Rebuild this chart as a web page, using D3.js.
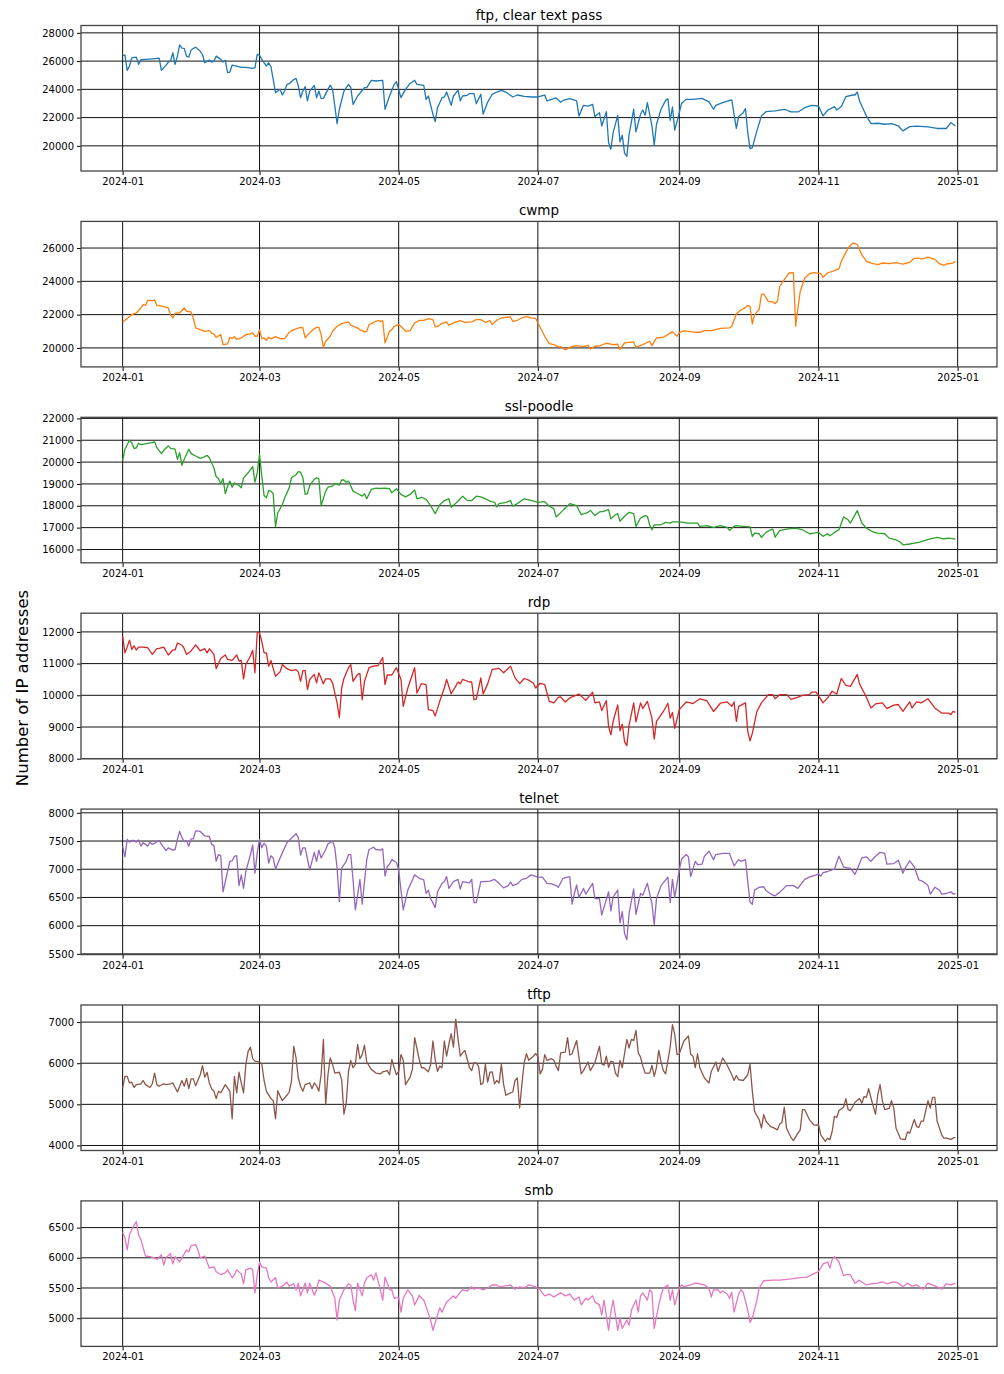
<!DOCTYPE html>
<html>
<head>
<meta charset="utf-8">
<script src="https://d3js.org/d3.v7.min.js"></script>
<style>
body { margin: 0; background: #fff; }
svg { display: block; font-family: "DejaVu Sans", sans-serif; }
</style>
</head>
<body>
<svg width="1004" height="1374"></svg>
<script>
// panel titles and line colours (matplotlib tab10 order)
var titles = ["ftp, clear text pass", "cwmp", "ssl-poodle", "rdp", "telnet", "tftp", "smb"];
var colors = ["#1f77b4", "#ff7f0e", "#2ca02c", "#d62728", "#9467bd", "#8c564b", "#e377c2"];

// [day of 2024 (0 = Jan 1), number of IP addresses]
var ftp = [[0,26400],[1,26420],[2,25340],[3,25650],[4,26230],[6,26280],[7,25770],[8,26100],[10,26120],[13,26160],[16,26210],[17,25340],[19,25700],[20,25930],[21,26000],[22,26590],[23,25770],[24,26350],[25,27150],[26,26920],[27,26900],[28,26350],[29,26280],[30,26780],[32,26990],[34,26700],[35,26450],[36,25880],[38,26070],[39,25930],[40,26000],[41,26350],[43,26120],[44,25930],[45,26050],[46,25180],[47,25220],[48,25720],[50,25650],[52,25550],[54,25550],[57,25480],[58,25530],[59,26470],[60,26400],[61,26120],[63,25650],[64,25880],[65,25600],[66,24700],[67,23760],[68,23880],[69,24000],[70,23600],[71,23880],[72,24350],[73,24400],[75,24700],[76,24780],[77,24240],[78,23410],[79,23880],[80,24190],[81,23180],[82,23880],[84,24280],[85,23410],[86,23880],[87,23340],[88,23360],[90,24000],[91,24300],[92,24000],[93,22820],[94,21570],[95,22590],[97,23880],[99,24350],[100,24120],[101,22940],[103,23530],[106,24120],[107,24120],[109,24640],[111,24590],[114,24640],[115,22590],[117,23530],[119,24350],[120,24540],[122,23410],[124,24000],[126,24420],[128,24640],[129,24350],[132,24280],[133,23290],[134,23530],[136,22240],[137,21720],[138,22700],[140,23410],[141,23460],[142,23810],[144,22870],[145,23530],[147,23950],[148,23180],[149,23530],[151,23580],[152,23700],[154,23700],[155,22990],[157,23650],[158,22240],[160,23100],[162,23650],[164,23810],[166,23930],[168,23810],[171,23460],[173,23600],[176,23510],[179,23460],[182,23460],[185,23600],[186,23180],[188,23290],[190,23390],[192,23080],[193,23220],[196,23340],[199,23180],[200,22120],[202,22870],[204,22820],[206,22940],[207,22070],[209,22350],[210,21410],[212,22420],[213,20240],[214,19760],[215,20940],[217,22160],[218,20280],[219,20750],[220,19480],[221,19250],[222,20820],[224,22590],[225,20990],[227,22240],[228,22540],[229,22160],[230,23060],[232,21410],[233,20070],[234,21530],[236,22590],[238,23220],[239,23340],[240,21810],[241,22750],[242,21110],[244,22350],[245,23010],[247,23290],[250,23290],[254,23360],[257,23110],[259,22590],[260,22870],[263,23060],[267,23250],[269,21230],[270,22070],[272,22350],[273,22640],[274,20940],[275,19810],[276,19880],[278,21060],[280,22120],[282,22420],[286,22470],[290,22590],[293,22400],[296,22400],[299,22700],[302,22870],[305,22820],[307,22120],[309,22520],[312,22780],[313,22540],[315,22780],[317,23480],[320,23600],[321,23600],[322,23810],[323,23180],[326,22120],[328,21570],[331,21600],[334,21530],[337,21570],[340,21410],[342,21060],[345,21360],[348,21390],[353,21340],[357,21230],[361,21230],[363,21650],[364,21530],[365,21410]];

var cwmp = [[0,21560],[2,21760],[4,22000],[6,22100],[8,22400],[9,22600],[10,22560],[11,22860],[13,22840],[14,22880],[15,22540],[16,22540],[18,22480],[20,22400],[21,22000],[22,21800],[23,22080],[24,22100],[25,22100],[27,22400],[28,22200],[30,22160],[31,21760],[32,21200],[34,21100],[36,21000],[38,21040],[39,20880],[40,20840],[41,20640],[43,20800],[44,20200],[46,20240],[47,20640],[48,20560],[49,20680],[50,20520],[52,20600],[54,20800],[56,20840],[57,20900],[58,20700],[59,20700],[60,21100],[61,20560],[62,20600],[63,20460],[64,20640],[65,20540],[67,20680],[69,20560],[71,20560],[73,20940],[75,21100],[76,21140],[78,21240],[79,21200],[80,20600],[81,20760],[83,21040],[85,21240],[86,21240],[87,20800],[88,20040],[89,20400],[91,20700],[92,21000],[94,21300],[96,21460],[99,21560],[100,21360],[103,21200],[104,21100],[106,20960],[107,21000],[108,21400],[111,21600],[112,21640],[113,21600],[114,21640],[115,20300],[117,21000],[118,21100],[119,21300],[121,21400],[122,21300],[124,21000],[126,21040],[128,21500],[130,21660],[132,21660],[134,21760],[136,21700],[137,21260],[138,21280],[140,21480],[142,21560],[143,21360],[145,21500],[148,21640],[150,21540],[153,21560],[155,21700],[157,21700],[159,21540],[161,21640],[162,21400],[164,21660],[166,21800],[168,21840],[170,21860],[171,21600],[173,21660],[175,21800],[177,21880],[179,21800],[181,21780],[183,21240],[185,20700],[187,20260],[189,20200],[191,20060],[192,20080],[194,19880],[196,20040],[199,20140],[202,20080],[204,20160],[205,19940],[207,20100],[209,20120],[212,20280],[215,20200],[217,20220],[218,19900],[220,20300],[224,20360],[225,20040],[228,20200],[231,20400],[232,20140],[234,20600],[237,20640],[239,20800],[241,20980],[243,20700],[244,20920],[246,21020],[249,20980],[251,20940],[253,20940],[255,21040],[258,21040],[262,21180],[266,21200],[267,21300],[269,22040],[271,22280],[273,22420],[274,22560],[275,22500],[276,21440],[277,22000],[279,22320],[280,23200],[281,23240],[283,22800],[285,22760],[286,22660],[287,22800],[288,23700],[290,24100],[292,24500],[294,24520],[295,21300],[296,22400],[297,23400],[299,24200],[301,24460],[303,24520],[306,24460],[307,24240],[309,24500],[312,24640],[314,24760],[315,25200],[318,26000],[320,26300],[321,26260],[322,26200],[324,25600],[326,25200],[328,25100],[331,25000],[333,25100],[336,25060],[339,25120],[342,25040],[345,25140],[347,25380],[349,25400],[350,25340],[353,25460],[356,25320],[358,25060],[360,24960],[361,25040],[364,25100],[365,25200]];

var sslPoodle = [[0,20050],[1,20590],[3,21000],[4,20890],[5,20620],[6,20650],[7,20860],[8,20800],[11,20860],[13,20890],[14,20930],[15,20660],[17,20390],[18,20540],[20,20740],[21,20630],[23,20590],[24,20130],[25,20430],[26,19850],[27,20130],[29,20590],[30,20400],[31,20330],[32,20280],[34,20170],[35,20200],[37,20310],[38,20200],[40,19740],[41,19330],[42,19250],[43,19010],[44,19240],[45,18560],[46,18900],[47,19130],[48,18850],[49,19050],[51,18930],[52,18820],[53,19280],[55,19510],[57,19790],[58,19080],[59,19510],[60,20360],[61,19360],[62,18470],[63,18360],[64,18700],[65,18670],[66,18550],[67,17060],[68,17670],[70,18060],[71,18360],[73,18820],[74,19280],[76,19420],[77,19560],[78,19540],[79,19280],[80,18520],[81,18560],[82,18930],[84,19210],[85,19280],[86,19240],[87,18010],[89,18670],[90,18850],[92,18900],[93,19010],[95,18950],[96,19180],[97,19180],[98,19080],[99,19130],[101,18670],[103,18560],[105,18440],[106,18550],[107,18320],[109,18750],[111,18810],[113,18790],[115,18810],[117,18780],[118,18590],[120,18780],[122,18520],[124,18410],[126,18520],[128,18720],[129,18320],[131,18390],[133,18290],[135,18010],[137,17640],[139,18050],[141,18240],[143,18320],[144,17930],[147,18210],[149,18440],[151,18250],[153,18240],[155,18440],[157,18410],[159,18320],[161,18210],[163,18160],[164,17950],[165,18100],[168,18160],[170,18240],[171,17980],[173,18100],[176,18320],[179,18250],[182,18160],[185,18190],[187,17980],[189,17870],[190,17490],[193,17790],[194,17900],[196,18100],[199,18010],[201,17590],[204,17700],[205,17790],[207,17550],[209,17720],[211,17750],[213,17820],[214,17400],[216,17590],[217,17640],[218,17290],[220,17520],[222,17700],[224,17640],[225,17060],[227,17440],[229,17550],[230,17520],[231,17130],[232,16900],[233,17130],[236,17130],[238,17240],[240,17210],[241,17260],[244,17260],[248,17210],[252,17210],[253,17060],[256,17090],[259,17010],[262,17090],[265,17010],[266,16870],[268,17060],[269,17090],[272,17060],[275,17030],[276,16600],[277,16750],[279,16720],[280,16550],[282,16780],[284,16900],[285,16930],[286,16560],[288,16860],[291,16930],[295,16980],[298,16900],[301,16720],[303,16750],[305,16780],[307,16600],[309,16720],[310,16630],[312,16780],[314,16900],[316,17490],[318,17360],[319,17210],[322,17780],[324,17210],[326,16980],[329,16800],[331,16750],[334,16720],[336,16520],[339,16440],[341,16330],[342,16210],[345,16250],[347,16290],[349,16330],[351,16390],[354,16490],[357,16550],[360,16490],[362,16520],[365,16470]];

var rdp = [[0,11870],[1,11340],[2,11520],[3,11740],[4,11450],[5,11560],[6,11430],[7,11520],[9,11520],[11,11500],[13,11290],[15,11470],[16,11480],[18,11520],[20,11270],[22,11430],[23,11430],[24,11650],[26,11580],[27,11470],[28,11290],[30,11400],[32,11590],[33,11500],[34,11400],[36,11470],[37,11340],[38,11470],[40,11290],[41,10840],[43,11160],[45,11270],[46,11130],[48,11100],[50,11270],[51,11080],[52,11100],[53,10520],[54,10970],[56,11240],[57,11420],[58,10710],[59,11980],[60,11980],[61,11690],[62,11340],[63,11340],[64,10920],[65,11100],[67,10600],[69,10740],[70,10970],[72,10840],[74,10780],[76,10810],[77,10740],[78,10440],[79,10780],[80,10780],[81,10180],[82,10500],[84,10660],[85,10390],[86,10710],[88,10360],[89,10520],[91,10520],[92,10390],[94,9760],[95,9300],[96,10230],[97,10530],[99,10870],[100,10970],[101,10440],[103,10660],[104,10690],[105,9860],[106,10440],[108,10870],[110,10920],[112,10940],[114,11190],[115,10340],[116,10640],[118,10640],[119,10760],[120,10870],[122,10500],[123,9650],[125,10230],[128,10870],[129,10070],[131,10370],[133,10340],[134,9550],[136,9520],[137,9350],[139,9810],[141,10230],[142,10500],[144,10050],[146,10290],[147,10420],[148,10360],[149,10500],[152,10420],[153,10420],[154,9860],[155,9880],[157,10550],[158,10040],[160,10360],[162,10820],[165,10850],[167,10710],[170,10920],[172,10550],[174,10370],[176,10530],[178,10480],[180,10390],[181,10230],[183,10380],[185,10340],[187,9810],[189,9760],[191,9940],[192,9950],[194,9790],[196,9920],[200,10040],[203,9840],[206,10100],[207,9760],[209,9790],[210,9520],[212,9830],[213,9020],[214,8750],[215,9180],[217,9700],[218,8880],[219,9090],[220,8540],[221,8410],[222,9070],[224,9760],[225,9160],[227,9760],[228,9580],[230,9810],[232,9280],[233,8620],[234,9180],[237,9490],[239,9750],[240,9280],[241,9460],[242,8960],[244,9550],[247,9790],[250,9740],[253,9890],[256,9830],[259,9490],[262,9750],[265,9790],[267,9650],[268,9790],[269,9180],[270,9650],[273,9760],[274,8860],[275,8560],[276,8800],[278,9490],[280,9760],[283,10020],[285,10020],[286,9890],[288,10020],[291,10020],[293,9870],[296,9940],[298,10000],[301,10020],[302,10100],[304,10100],[307,9760],[309,9920],[311,10130],[313,10040],[315,10530],[317,10310],[319,10280],[322,10660],[323,10360],[326,9940],[328,9600],[330,9730],[333,9760],[335,9580],[338,9690],[340,9710],[342,9490],[345,9790],[346,9600],[348,9790],[350,9760],[353,9890],[356,9600],[359,9440],[362,9440],[363,9390],[364,9490],[365,9460]];

var telnet = [[0,7410],[1,7220],[2,7530],[3,7480],[4,7510],[5,7510],[6,7480],[7,7520],[8,7410],[9,7470],[11,7410],[12,7480],[13,7440],[14,7460],[16,7510],[17,7440],[19,7330],[20,7380],[22,7340],[23,7350],[24,7530],[25,7670],[26,7560],[27,7490],[28,7500],[29,7410],[30,7540],[31,7540],[32,7680],[34,7670],[36,7590],[38,7580],[39,7440],[40,7420],[41,7140],[42,7260],[43,7240],[44,6600],[46,6960],[47,7140],[48,7150],[49,7230],[50,7240],[51,6710],[52,6900],[53,6660],[54,6960],[56,7260],[57,7430],[58,6930],[59,7290],[60,7530],[61,7380],[62,7460],[63,7410],[64,7110],[65,7240],[66,7200],[67,7000],[69,7200],[70,7290],[72,7470],[74,7550],[76,7630],[77,7560],[78,7250],[79,7380],[80,7380],[82,6990],[84,7300],[85,7140],[86,7340],[87,7200],[89,7350],[90,7450],[92,7500],[93,7380],[94,7020],[95,6430],[96,7020],[98,7140],[99,7260],[100,7260],[101,6810],[102,6280],[103,6540],[104,6820],[105,6380],[107,7170],[108,7350],[110,7390],[111,7350],[113,7340],[114,7360],[115,6880],[116,7050],[117,7090],[118,7170],[120,7120],[121,6990],[122,6630],[123,6280],[125,6630],[127,6810],[128,6900],[130,6840],[132,6810],[133,6570],[134,6630],[135,6480],[137,6320],[138,6600],[140,6750],[141,6780],[142,6870],[143,6660],[145,6780],[147,6820],[148,6650],[149,6780],[152,6760],[153,6820],[154,6410],[155,6410],[157,6780],[158,6780],[161,6790],[163,6820],[165,6750],[167,6670],[169,6710],[170,6770],[171,6710],[173,6740],[175,6820],[177,6840],[179,6900],[182,6860],[184,6860],[186,6750],[188,6740],[190,6710],[191,6680],[193,6840],[196,6870],[197,6380],[198,6570],[199,6720],[200,6500],[202,6660],[203,6560],[206,6750],[207,6480],[209,6480],[210,6190],[213,6600],[214,6260],[215,6510],[217,6630],[218,6050],[219,6250],[220,5860],[221,5750],[222,6220],[224,6650],[225,6200],[227,6570],[228,6540],[230,6750],[232,6390],[233,6020],[234,6480],[236,6710],[239,6860],[240,6410],[241,6820],[242,6500],[244,6990],[245,7180],[247,7260],[248,7220],[249,6870],[251,7140],[252,7080],[254,7090],[255,7230],[257,7320],[259,7170],[260,7260],[263,7280],[264,7280],[266,7280],[268,7060],[270,7170],[271,7140],[273,7170],[274,6780],[275,6420],[276,6380],[277,6630],[279,6680],[281,6690],[282,6620],[285,6540],[286,6530],[288,6590],[291,6710],[294,6710],[296,6660],[297,6720],[299,6820],[301,6860],[304,6900],[305,6920],[306,6880],[307,6940],[309,6960],[312,7000],[313,7120],[314,7230],[316,7040],[318,7020],[319,7020],[321,6910],[322,7000],[324,7200],[326,7220],[328,7140],[330,7230],[332,7300],[334,7280],[335,7090],[338,7100],[340,7160],[342,6930],[343,7020],[345,7150],[347,7040],[349,6810],[351,6780],[353,6710],[354,6560],[356,6680],[358,6630],[359,6560],[361,6570],[363,6600],[364,6560],[365,6570]];

var tftp = [[0,5400],[1,5680],[2,5680],[3,5520],[4,5540],[5,5410],[6,5480],[8,5500],[9,5580],[10,5480],[12,5410],[13,5500],[14,5760],[15,5480],[16,5440],[18,5500],[19,5480],[21,5500],[22,5520],[24,5300],[26,5580],[27,5440],[28,5630],[29,5380],[30,5620],[31,5620],[32,5450],[34,5720],[35,5940],[36,5660],[37,5780],[38,5520],[39,5380],[40,5320],[41,5140],[42,5320],[43,5280],[45,5480],[46,5400],[47,5320],[48,4650],[49,5680],[50,5280],[51,5780],[52,5520],[53,5280],[54,5970],[55,6290],[56,6390],[57,6110],[58,6050],[60,6030],[61,5980],[62,5580],[63,5320],[65,5140],[66,5090],[67,4650],[68,5330],[69,5200],[70,5090],[72,5220],[73,5300],[74,5560],[75,6410],[76,6130],[77,5640],[78,5440],[79,5320],[80,5480],[82,5520],[83,5380],[84,5520],[85,5450],[86,5320],[87,5720],[88,6580],[89,4990],[90,5720],[91,6130],[92,5970],[93,5760],[95,5780],[96,5600],[97,4760],[98,5030],[99,5800],[100,6070],[101,5890],[102,5970],[103,6460],[104,6110],[105,6210],[106,6440],[107,6030],[109,5850],[111,5760],[113,5740],[114,5790],[116,5820],[117,5720],[118,6090],[119,5890],[120,5720],[121,5800],[122,6210],[123,6070],[124,5480],[126,5660],[127,5850],[128,6620],[130,6090],[131,5890],[132,5890],[134,5790],[135,5970],[136,6540],[137,6090],[138,5800],[139,5930],[140,5890],[141,6540],[142,6170],[143,6460],[144,6720],[145,6390],[146,7070],[147,6600],[148,6170],[149,6250],[150,6310],[152,5900],[153,5820],[154,6010],[155,6010],[156,5930],[157,5480],[158,5520],[159,5970],[160,5540],[161,5780],[162,5790],[163,5500],[164,5580],[165,5520],[166,5970],[167,5480],[168,5220],[170,5280],[171,5300],[172,5580],[173,5640],[174,4910],[175,5480],[176,6010],[177,6230],[178,6070],[180,6170],[181,6230],[182,6170],[183,5740],[184,5850],[185,6210],[186,6070],[188,6110],[189,6070],[190,5930],[191,5820],[192,6250],[194,6270],[195,6620],[196,6200],[197,6230],[199,6550],[201,5740],[202,5820],[204,6030],[205,5820],[207,6010],[209,6410],[210,5980],[211,5950],[212,6170],[213,5900],[214,6050],[215,6030],[216,5760],[217,5670],[218,6070],[219,5890],[221,6580],[222,6370],[223,6580],[224,6550],[225,6800],[226,6250],[227,6150],[228,5930],[229,5760],[231,5760],[232,5950],[233,5680],[234,5900],[235,6310],[236,6030],[237,5820],[238,5740],[240,6390],[241,6940],[242,6700],[243,6210],[244,6230],[246,6540],[248,6660],[249,6210],[250,6170],[251,5890],[252,6230],[253,5890],[255,5640],[257,5520],[258,5800],[260,6030],[261,5800],[263,6130],[265,5950],[267,5720],[268,5580],[269,5700],[270,5600],[272,5580],[274,5720],[275,5970],[276,5320],[277,4830],[279,4630],[280,4420],[281,4750],[282,4590],[284,4460],[285,4440],[287,4380],[288,4520],[289,4560],[290,4930],[291,4420],[293,4190],[294,4120],[296,4300],[297,4380],[298,4870],[299,4870],[301,4630],[303,4500],[304,4490],[305,4520],[306,4260],[308,4100],[309,4180],[310,4140],[311,4340],[312,4710],[313,4680],[314,4850],[316,4930],[317,5140],[318,4870],[319,4850],[321,5050],[323,5140],[324,5030],[325,5190],[326,5170],[327,5380],[328,5160],[329,4950],[330,4760],[331,5240],[332,5480],[333,5090],[334,4870],[336,4900],[337,5090],[338,4910],[339,4420],[341,4160],[343,4140],[344,4330],[345,4300],[347,4630],[348,4460],[349,4440],[350,4590],[351,4590],[353,5090],[354,4910],[355,5170],[356,5170],[357,4590],[359,4260],[360,4180],[361,4180],[363,4150],[364,4180],[365,4200]];

var smb = [[0,6420],[1,6330],[2,6130],[3,6380],[4,6470],[6,6600],[7,6380],[8,6300],[10,6030],[12,6020],[14,6000],[15,5970],[17,6050],[18,5880],[19,6000],[21,6070],[22,5900],[23,6020],[25,5930],[26,6000],[28,6130],[29,6100],[30,6200],[32,6220],[33,6130],[34,6000],[36,6030],[37,5930],[38,5830],[40,5850],[41,5770],[43,5720],[45,5750],[46,5800],[48,5670],[49,5720],[50,5800],[52,5730],[53,5570],[54,5800],[56,5830],[57,5800],[58,5420],[59,5720],[60,5930],[61,5850],[63,5830],[64,5670],[65,5600],[67,5670],[68,5500],[70,5530],[72,5600],[73,5530],[75,5570],[76,5470],[77,5580],[78,5370],[80,5580],[81,5420],[82,5580],[84,5380],[85,5470],[86,5630],[89,5580],[91,5530],[93,5330],[94,4970],[95,5300],[97,5470],[99,5570],[100,5550],[101,5300],[102,5130],[103,5580],[105,5370],[106,5580],[107,5670],[109,5720],[110,5630],[111,5750],[113,5470],[114,5300],[115,5680],[117,5470],[118,5470],[119,5330],[121,5350],[122,5100],[123,5330],[125,5470],[126,5420],[127,5370],[128,5220],[130,5380],[131,5330],[132,5300],[134,5080],[135,4970],[136,4800],[138,5050],[139,5170],[140,5100],[142,5270],[143,5300],[145,5370],[146,5330],[148,5430],[149,5470],[151,5450],[153,5520],[154,5480],[156,5500],[158,5470],[160,5500],[162,5550],[164,5550],[165,5520],[167,5530],[170,5550],[172,5480],[174,5520],[176,5500],[178,5550],[181,5520],[183,5470],[185,5370],[187,5400],[189,5350],[192,5420],[194,5370],[196,5400],[198,5300],[200,5350],[201,5220],[203,5330],[204,5300],[206,5370],[207,5270],[209,5220],[210,5050],[211,5300],[213,4800],[214,5100],[215,5300],[217,4800],[218,5000],[219,4830],[221,4970],[222,4880],[223,5130],[225,5300],[226,5100],[227,5370],[228,5420],[230,5300],[231,5470],[232,5430],[233,4830],[235,5220],[236,5380],[237,5500],[239,5550],[240,5300],[241,5470],[242,5220],[244,5500],[245,5550],[246,5520],[249,5550],[251,5580],[253,5570],[255,5550],[257,5500],[258,5350],[259,5470],[261,5470],[262,5420],[263,5450],[265,5400],[266,5330],[267,5430],[268,5100],[270,5400],[271,5470],[272,5430],[274,5130],[275,4930],[276,5000],[278,5300],[279,5500],[281,5620],[285,5630],[288,5630],[293,5650],[297,5670],[300,5680],[302,5720],[305,5770],[306,5830],[307,5900],[309,5930],[310,5830],[311,5970],[312,6020],[314,5930],[316,5700],[317,5720],[319,5720],[321,5580],[323,5630],[324,5600],[326,5550],[328,5570],[331,5580],[333,5600],[335,5570],[338,5600],[340,5580],[342,5520],[344,5580],[346,5530],[348,5550],[351,5480],[353,5580],[355,5550],[357,5520],[359,5480],[361,5570],[363,5550],[365,5580]];

var series = [ftp, cwmp, sslPoodle, rdp, telnet, tftp, smb];

// y tick labels and visible y ranges of each panel
var yTicks = [
  [20000, 22000, 24000, 26000, 28000],
  [20000, 22000, 24000, 26000],
  [16000, 17000, 18000, 19000, 20000, 21000, 22000],
  [8000, 9000, 10000, 11000, 12000],
  [5500, 6000, 6500, 7000, 7500, 8000],
  [4000, 5000, 6000, 7000],
  [5000, 5500, 6000, 6500]
];
var yRanges = [
  [18220, 28520],
  [18860, 27600],
  [15390, 22050],
  [8000, 12590],
  [5487, 8066],
  [3878, 7415],
  [4533, 6942]
];

var svg = d3.select("svg");
var left = 81, right = 997, panelH = 145.5, pitch = 195.9, firstTop = 25.5;

var start = new Date(2024, 0, 1);
var x = d3.scaleTime()
  .domain([d3.timeHour.offset(start, -438), d3.timeHour.offset(new Date(2024, 11, 31), 438)])
  .range([left, right]);
var xTickDates = d3.timeMonth.range(start, new Date(2025, 0, 2), 2);
var fmt = d3.timeFormat("%Y-%m");

series.forEach(function (data, i) {
  var top = firstTop + pitch * i;
  var bottom = top + panelH;
  var y = d3.scaleLinear().domain(yRanges[i]).range([bottom, top]);
  var g = svg.append("g");

  // grid
  g.selectAll(".hg").data(yTicks[i]).enter().append("line")
    .attr("x1", left).attr("x2", right)
    .attr("y1", function (d) { return y(d); }).attr("y2", function (d) { return y(d); })
    .attr("stroke", "#111").attr("stroke-width", 1);
  g.selectAll(".vg").data(xTickDates).enter().append("line")
    .attr("y1", top).attr("y2", bottom)
    .attr("x1", function (d) { return x(d); }).attr("x2", function (d) { return x(d); })
    .attr("stroke", "#111").attr("stroke-width", 1);

  // the series
  var line = d3.line()
    .x(function (d) { return x(d3.timeDay.offset(start, d[0])); })
    .y(function (d) { return y(d[1]); });
  g.append("path").datum(data)
    .attr("d", line)
    .attr("fill", "none")
    .attr("stroke", colors[i])
    .attr("stroke-width", 1.3)
    .attr("stroke-linejoin", "round");

  // axes
  var yAxis = d3.axisLeft(y).tickValues(yTicks[i]).tickSize(4).tickPadding(3).tickFormat(d3.format("d"));
  var ya = g.append("g").attr("transform", "translate(" + left + ",0)").call(yAxis);
  var xAxis = d3.axisBottom(x).tickValues(xTickDates).tickSize(4).tickPadding(3).tickFormat(fmt);
  var xa = g.append("g").attr("transform", "translate(0," + bottom + ")").call(xAxis);
  [ya, xa].forEach(function (a) {
    a.select(".domain").remove();
    a.selectAll("text").attr("fill", "#000").style("font-size", "10px").style("font-family", "'DejaVu Sans', sans-serif");
    a.selectAll("line").attr("stroke", "#000");
  });

  // frame
  g.append("rect")
    .attr("x", left).attr("y", top).attr("width", right - left).attr("height", panelH)
    .attr("fill", "none").attr("stroke", "#444").attr("stroke-width", 1.3);

  // title
  g.append("text")
    .attr("x", (left + right) / 2).attr("y", top - 6)
    .attr("text-anchor", "middle")
    .style("font-size", "13.5px")
    .text(titles[i]);
});

svg.append("text")
  .attr("transform", "translate(22,688) rotate(-90)")
  .attr("text-anchor", "middle")
  .attr("dy", "0.35em")
  .style("font-size", "16.5px")
  .text("Number of IP addresses");
</script>
</body>
</html>
